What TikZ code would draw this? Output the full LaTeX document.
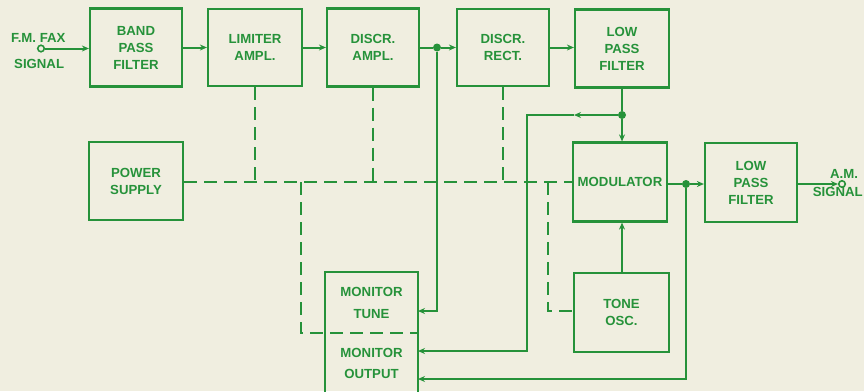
\documentclass[tikz,border=0pt]{standalone}
\usepackage{fontspec}
\setmainfont{Liberation Sans}
\usetikzlibrary{arrows.meta}
\definecolor{ink}{RGB}{38,146,58}
\definecolor{paper}{RGB}{240,238,224}
\tikzset{
  blk/.style={draw=ink, line width=2.2pt, minimum width=#1, inner sep=0pt, text=ink,
    font=\fontsize{13.2}{17}\selectfont\bfseries, align=center},
  wire/.style={draw=ink, line width=2pt},
  arr/.style={wire, -{Stealth[length=7pt,width=6pt]}},
  pwr/.style={draw=ink, line width=2pt, dash pattern=on 13pt off 7pt},
  dot/.style={circle, fill=ink, inner sep=0pt, minimum size=8pt},
  term/.style={circle, draw=ink, line width=1.6pt, fill=paper, inner sep=0pt, minimum size=6.5pt},
  lbl/.style={text=ink, font=\fontsize{13.2}{15}\selectfont\bfseries, inner sep=0pt}
}
\begin{document}
\begin{tikzpicture}[x=1pt,y=-1pt]
\fill[paper] (0,0) rectangle (864,391);
\useasboundingbox (0,0) rectangle (864,391);
% blocks
\node[blk=92pt, minimum height=78pt] (bpf) at (136,47.5) {BAND\\PASS\\FILTER};
\node[blk=94pt, minimum height=77pt] (lim) at (255,47.5) {LIMITER\\AMPL.};
\node[blk=92pt, minimum height=78pt] (da) at (373,47.5) {DISCR.\\AMPL.};
\node[blk=92pt, minimum height=77pt] (dr) at (503,47.5) {DISCR.\\RECT.};
\node[blk=94pt, minimum height=78pt] (lpfa) at (622,48.5) {LOW\\PASS\\FILTER};
\node[blk=94pt, minimum height=78pt] (ps) at (136,181) {POWER\\SUPPLY};
\node[blk=94pt, minimum height=79pt] (mod) at (620,182) {MODULATOR};
\node[blk=92pt, minimum height=79pt] (lpfb) at (751,182.5) {LOW\\PASS\\FILTER};
\node[blk=95pt, minimum height=79pt] (tone) at (621.5,312.5) {TONE\\OSC.};
\node[blk=93pt, minimum height=130pt] (mon) at (371.5,337) {};
\node[lbl, align=center, font=\fontsize{13.2}{22}\selectfont\bfseries] (mtxt) at (371.5,303) {MONITOR\\TUNE};
\node[lbl, align=center, font=\fontsize{13.2}{21}\selectfont\bfseries] (motxt) at (371.5,363) {MONITOR\\OUTPUT};
% terminals and labels
\node[term] (in) at (41,48.5) {};
\node[lbl, anchor=base west] (inl1) at (11,42) {F.M. FAX};
\node[lbl, anchor=base west] (inl2) at (14,68) {SIGNAL};
\node[term] (out) at (842,184) {};
\node[lbl, anchor=base] (outl1) at (844,178) {A.M.};
\node[lbl, anchor=base east] (outl2) at (863,196) {SIGNAL};
% junctions
\node[dot] (j1) at (437,47.5) {};
\node[dot] (j2) at (622,115) {};
\node[dot] (j3) at (686,184) {};
\coordinate (mt) at (418,311);
\coordinate (mo1) at (418,351);
\coordinate (mo2) at (418,379);
\coordinate (bend2) at (527,115);
\coordinate (mk) at (574,115);
% main signal path
\draw[arr] (in) -- (bpf.west |- in);
\draw[arr] (bpf.east) -- (lim.west);
\draw[arr] (lim.east) -- (da.west);
\draw[wire] (da.east) -- (j1);
\draw[arr] (j1) -- (dr.west);
\draw[arr] (dr.east) -- (lpfa.west |- dr.east);
\draw[wire] (lpfa.south) -- (j2);
\draw[arr] (j2) -- (j2 |- mod.north);
\draw[wire] (mod.east |- j3) -- (j3);
\draw[arr] (j3) -- (lpfb.west |- j3);
\draw[arr] (lpfb.east |- out) -- (out);
\draw[arr] (tone.north -| j2) -- (j2 |- mod.south);
% monitor feeds
\draw[arr] (j1) |- (mt);
\draw[arr] (j2) -- (mk);
\draw[arr] (mk) -- (bend2) |- (mo1);
\draw[arr] (j3) |- (mo2);
% power distribution
\draw[pwr] (ps.east |- 0,182) -- (mod.west |- 0,182);
\draw[pwr] (lim.south) -- (lim.south |- 0,182);
\draw[pwr] (da.south) -- (da.south |- 0,182);
\draw[pwr] (dr.south) -- (dr.south |- 0,182);
\draw[pwr] (301,182) -- (301,333) -- (mon.east |- 0,333);
\draw[pwr] (548,182) -- (548,311) -- (tone.west |- 0,311);
\end{tikzpicture}
\end{document}
